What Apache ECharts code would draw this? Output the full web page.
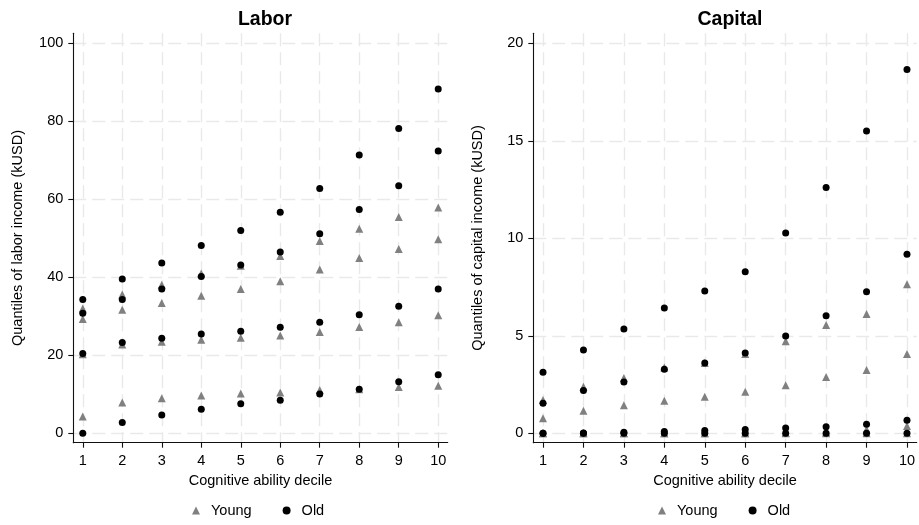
<!DOCTYPE html>
<html>
<head>
<meta charset="utf-8">
<script src="https://cdn.jsdelivr.net/npm/echarts@6/dist/echarts.min.js"></script>
<style>
  html, body { margin: 0; padding: 0; background: #fff; }
  #chart { width: 919px; height: 525px; }
</style>
</head>
<body>
<div id="chart"></div>
<script>
// Cognitive ability deciles (x positions)
const deciles = [1, 2, 3, 4, 5, 6, 7, 8, 9, 10];

// Labor income quantiles (kUSD), young cohort
const laborYoungQ1 = [4.3, 7.9, 9.0, 9.7, 10.2, 10.5, 11.1, 11.3, 11.9, 12.2];
const laborYoungQ2 = [20.3, 22.8, 23.5, 24.0, 24.5, 25.1, 26.0, 27.3, 28.5, 30.3];
const laborYoungQ3 = [29.3, 31.7, 33.4, 35.3, 37.0, 39.0, 42.0, 45.0, 47.3, 49.8];
const laborYoungQ4 = [32.0, 35.6, 38.1, 41.0, 43.0, 45.5, 49.3, 52.5, 55.5, 57.9];

// Labor income quantiles (kUSD), old cohort
const laborOldQ1 = [0.0, 2.8, 4.7, 6.2, 7.6, 8.5, 10.1, 11.3, 13.2, 15.0];
const laborOldQ2 = [20.5, 23.3, 24.4, 25.5, 26.2, 27.2, 28.5, 30.4, 32.6, 37.0];
const laborOldQ3 = [30.8, 34.3, 37.0, 40.2, 43.2, 46.5, 51.2, 57.4, 63.5, 72.4];
const laborOldQ4 = [34.3, 39.6, 43.7, 48.2, 52.0, 56.7, 62.8, 71.4, 78.2, 88.3];

// Capital income quantiles (kUSD), young cohort
const capitalYoungQ1 = [0, 0, 0, 0, 0, 0, 0, 0, 0, 0];
const capitalYoungQ2 = [0, 0, 0, 0, 0, 0.01, 0.02, 0.05, 0.2, 0.37];
const capitalYoungQ3 = [0.77, 1.16, 1.44, 1.67, 1.88, 2.13, 2.46, 2.89, 3.25, 4.07];
const capitalYoungQ4 = [1.71, 2.39, 2.84, 3.38, 3.6, 4.07, 4.72, 5.55, 6.12, 7.64];

// Capital income quantiles (kUSD), old cohort
const capitalOldQ1 = [0, 0, 0, 0, 0, 0, 0, 0, 0, 0];
const capitalOldQ2 = [0, 0.02, 0.05, 0.1, 0.14, 0.2, 0.27, 0.34, 0.46, 0.67];
const capitalOldQ3 = [1.54, 2.19, 2.63, 3.28, 3.61, 4.12, 4.99, 6.03, 7.26, 9.18];
const capitalOldQ4 = [3.13, 4.27, 5.35, 6.43, 7.30, 8.29, 10.27, 12.6, 15.5, 18.65];

// Axis tick values
const laborTicks = [0, 20, 40, 60, 80, 100];
const capitalTicks = [0, 5, 10, 15, 20];

const FONT = 'Liberation Sans, Arial, Helvetica, sans-serif';
const YOUNG_COLOR = '#808080';
const OLD_COLOR = '#000000';
const AXIS_COLOR = '#111';

function points(...lists) {
  const out = [];
  lists.forEach(list => list.forEach((v, i) => out.push([deciles[i], v])));
  return out;
}

const gridLine = { show: true, lineStyle: { color: '#e9e9e9', width: 1.4, type: [13, 6] } };

function makeX(gridIndex) {
  return {
    type: 'value', gridIndex,
    min: 0.76, max: 10.24,
    name: 'Cognitive ability decile', nameLocation: 'middle', nameGap: 30,
    nameTextStyle: { fontFamily: FONT, fontSize: 14.5, color: '#000' },
    axisLine: { show: true, onZero: false, lineStyle: { color: AXIS_COLOR, width: 1.1 } },
    axisTick: { show: true, length: 5, inside: false, customValues: deciles, lineStyle: { color: AXIS_COLOR, width: 1.1 } },
    axisLabel: { customValues: deciles, margin: 11, fontFamily: FONT, fontSize: 14.5, color: '#000' },
    splitLine: gridLine
  };
}

function makeY(gridIndex, min, max, ticks, name) {
  return {
    type: 'value', gridIndex,
    min, max,
    name, nameLocation: 'middle', nameGap: 48,
    nameTextStyle: { fontFamily: FONT, fontSize: 14.5, color: '#000' },
    axisLine: { show: true, onZero: false, lineStyle: { color: AXIS_COLOR, width: 1.1 } },
    axisTick: { show: true, length: 5, inside: false, customValues: ticks, lineStyle: { color: AXIS_COLOR, width: 1.1 } },
    axisLabel: { customValues: ticks, margin: 10, fontFamily: FONT, fontSize: 14.5, color: '#000' },
    splitLine: gridLine
  };
}

function makeLegend(left) {
  return {
    left, top: 503, orient: 'horizontal',
    itemWidth: 8, itemHeight: 8, itemGap: 31, padding: 0,
    textStyle: { fontFamily: FONT, fontSize: 14.5, color: '#000', padding: [0, 0, 0, 6] },
    data: [{ name: 'Young', icon: 'triangle' }, { name: 'Old', icon: 'circle' }]
  };
}

function scatter(name, idx, data, symbol, size, color) {
  return {
    type: 'scatter', name, xAxisIndex: idx, yAxisIndex: idx,
    data, symbol, symbolSize: size,
    itemStyle: { color, opacity: 1 },
    emphasis: { disabled: true }
  };
}

const chart = echarts.init(document.getElementById('chart'), null, { renderer: 'canvas' });
chart.setOption({
  backgroundColor: '#fff',
  animation: false,
  title: [
    { text: 'Labor', left: 260, top: 5, textAlign: 'center',
      textStyle: { fontFamily: FONT, fontSize: 19.5, fontWeight: 'bold', color: '#000' } },
    { text: 'Capital', left: 725, top: 5, textAlign: 'center',
      textStyle: { fontFamily: FONT, fontSize: 19.5, fontWeight: 'bold', color: '#000' } }
  ],
  grid: [
    { left: 73.3, right: 471.3, top: 33.3, bottom: 82.3, containLabel: false },
    { left: 533.3, right: 2.3, top: 33.3, bottom: 82.3, containLabel: false }
  ],
  xAxis: [makeX(0), makeX(1)],
  yAxis: [
    makeY(0, -2.4, 102.6, laborTicks, 'Quantiles of labor income (kUSD)'),
    makeY(1, -0.48, 20.51, capitalTicks, 'Quantiles of capital income (kUSD)')
  ],
  legend: [makeLegend(192), makeLegend(658)],
  series: [
    scatter('Young', 0, points(laborYoungQ1, laborYoungQ2, laborYoungQ3, laborYoungQ4), 'triangle', 8, YOUNG_COLOR),
    scatter('Old', 0, points(laborOldQ1, laborOldQ2, laborOldQ3, laborOldQ4), 'circle', 7, OLD_COLOR),
    scatter('Young', 1, points(capitalYoungQ1, capitalYoungQ2, capitalYoungQ3, capitalYoungQ4), 'triangle', 8, YOUNG_COLOR),
    scatter('Old', 1, points(capitalOldQ1, capitalOldQ2, capitalOldQ3, capitalOldQ4), 'circle', 7, OLD_COLOR)
  ]
});
</script>
</body>
</html>
